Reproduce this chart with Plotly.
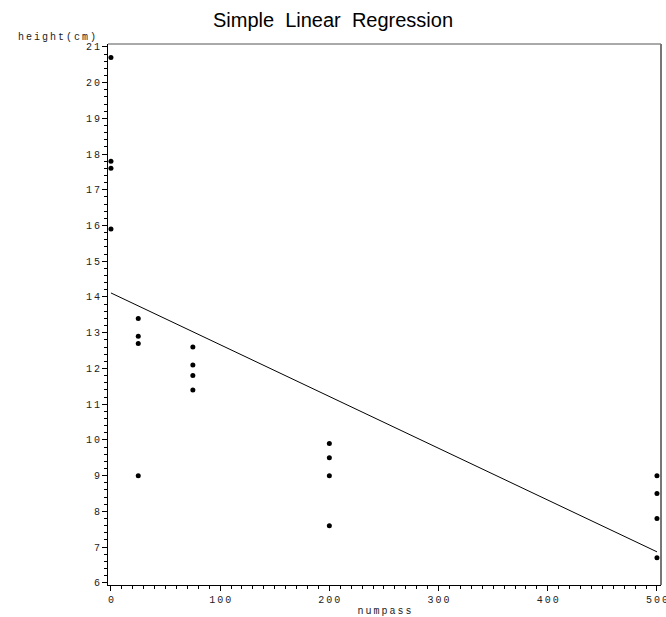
import numpy as np
import plotly.graph_objects as go

numpass = [0, 0, 0, 0, 25, 25, 25, 25, 75, 75, 75, 75,
           200, 200, 200, 200, 500, 500, 500, 500]
height = [20.7, 17.8, 17.6, 15.9, 13.4, 12.9, 12.7, 9.0,
          12.6, 12.1, 11.8, 11.4, 9.9, 9.5, 9.0, 7.6,
          9.0, 8.5, 7.8, 6.7]
x_ticks = [0, 100, 200, 300, 400, 500]
y_ticks = list(range(6, 22))

slope, intercept = np.polyfit(numpass, height, 1)
line_x = [min(numpass), max(numpass)]
line_y = [intercept + slope * v for v in line_x]

def spaced(v):
    return "\u2009".join(str(v))

mono = dict(family="Liberation Mono, DejaVu Sans Mono, monospace", size=10, color="#222")

fig = go.Figure()
fig.add_trace(go.Scatter(x=line_x, y=line_y, mode="lines",
                         line=dict(color="black", width=1), hoverinfo="skip"))
fig.add_trace(go.Scatter(x=numpass, y=height, mode="markers",
                         marker=dict(color="black", size=5, symbol="circle")))

fig.update_layout(
    width=666, height=617,
    margin=dict(l=108, r=5, t=44, b=32, autoexpand=False),
    plot_bgcolor="white", paper_bgcolor="white",
    showlegend=False,
    title=dict(text="Simple  Linear  Regression", x=0.5, xanchor="center",
               y=0.967, yanchor="middle",
               font=dict(family="Liberation Sans, Arial, sans-serif", size=20, color="black")),
    xaxis=dict(range=[-2.7, 503.7], tickvals=x_ticks,
               ticktext=[spaced(v) for v in x_ticks],
               ticklabeloverflow="allow", automargin=False,
               ticks="outside", ticklen=5, tickwidth=1, tickcolor="black",
               minor=dict(dtick=10, ticks="outside", ticklen=3, tickcolor="black", showgrid=False),
               showgrid=False, zeroline=False, showline=True, linecolor="black", linewidth=1,
               mirror=False, tickfont=mono,
               title=dict(text=spaced("numpass"), font=mono, standoff=9)),
    yaxis=dict(range=[5.94, 21.08], tickvals=y_ticks,
               ticktext=[spaced(v) for v in y_ticks],
               automargin=False,
               ticks="outside", ticklen=5, tickwidth=1, tickcolor="black",
               minor=dict(dtick=0.2, ticks="outside", ticklen=3, tickcolor="black", showgrid=False),
               showgrid=False, zeroline=False, showline=True, linecolor="black", linewidth=1,
               tickfont=mono),
    shapes=[
        dict(type="line", xref="paper", yref="paper", x0=0, x1=1, y0=1, y1=1,
             line=dict(color="#555", width=1)),
        dict(type="line", xref="paper", yref="paper", x0=1, x1=1, y0=0, y1=1,
             line=dict(color="#777", width=2)),
    ],
    annotations=[
        dict(text=spaced("height(cm)"), xref="paper", yref="paper", x=-0.018, y=1.0,
             xanchor="right", yanchor="bottom", showarrow=False, font=mono, yshift=-1),
    ],
)

fig.write_html("out.html")
